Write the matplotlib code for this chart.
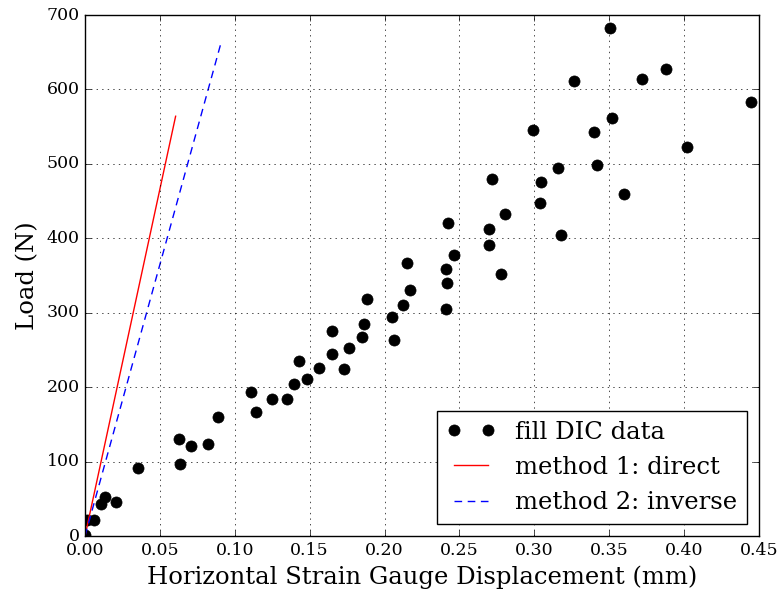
import matplotlib
matplotlib.use("Agg")
import matplotlib.pyplot as plt

plt.style.use("classic")
plt.rcParams["font.family"] = "DejaVu Serif"

# DIC measurements (displacement in mm, load in N)
dic_disp = [0.000, 0.001, 0.006, 0.0105, 0.0134, 0.0205, 0.0356, 0.063, 0.0635,
            0.0708, 0.082, 0.0886, 0.111, 0.114, 0.125, 0.1347, 0.1394, 0.143,
            0.148, 0.1563, 0.1646, 0.1648, 0.1726, 0.1763, 0.185, 0.186, 0.188,
            0.2048, 0.206, 0.212, 0.217, 0.2148, 0.2407, 0.2415, 0.241, 0.2465,
            0.2422, 0.2698, 0.270, 0.2805, 0.2718, 0.2778, 0.3036, 0.3042, 0.316,
            0.3175, 0.299, 0.3266, 0.340, 0.3418, 0.3505, 0.352, 0.3596, 0.372,
            0.3876, 0.4016, 0.4444]
dic_load = [2, 21, 21, 43, 52, 46, 91, 131, 97,
            121, 124, 160, 193, 167, 184, 184, 204, 235,
            211, 226, 275, 244, 224, 252, 267, 285, 318,
            294, 263, 311, 330, 367, 305, 340, 359, 377,
            421, 391, 413, 432, 480, 352, 448, 475, 494,
            404, 545, 612, 543, 499, 682, 562, 460, 614,
            628, 523, 583]

direct_disp = [0.0, 0.0605]
direct_load = [0, 564]
inverse_disp = [0.0, 0.091]
inverse_load = [0, 664]

fig = plt.figure(figsize=(7.82, 5.94), dpi=100)
ax = fig.add_axes([0.1087, 0.0976, 0.8619, 0.8771])

ax.plot(dic_disp, dic_load, "ko", markersize=8, label="fill DIC data")
ax.plot(direct_disp, direct_load, "r-", linewidth=1, label="method 1: direct")
ax.plot(inverse_disp, inverse_load, "b--", linewidth=1, dashes=(5.5, 4),
        label="method 2: inverse")

ax.set_xlim(0, 0.45)
ax.set_ylim(0, 700)
ax.set_xlabel("Horizontal Strain Gauge Displacement (mm)", fontsize=17.5)
ax.set_ylabel("Load (N)", fontsize=17.5)
ax.tick_params(labelsize=12.5)
ax.grid(True)
ax.legend(loc="lower right", numpoints=2, fontsize=17.5)

fig.savefig("out.png", dpi=100)
